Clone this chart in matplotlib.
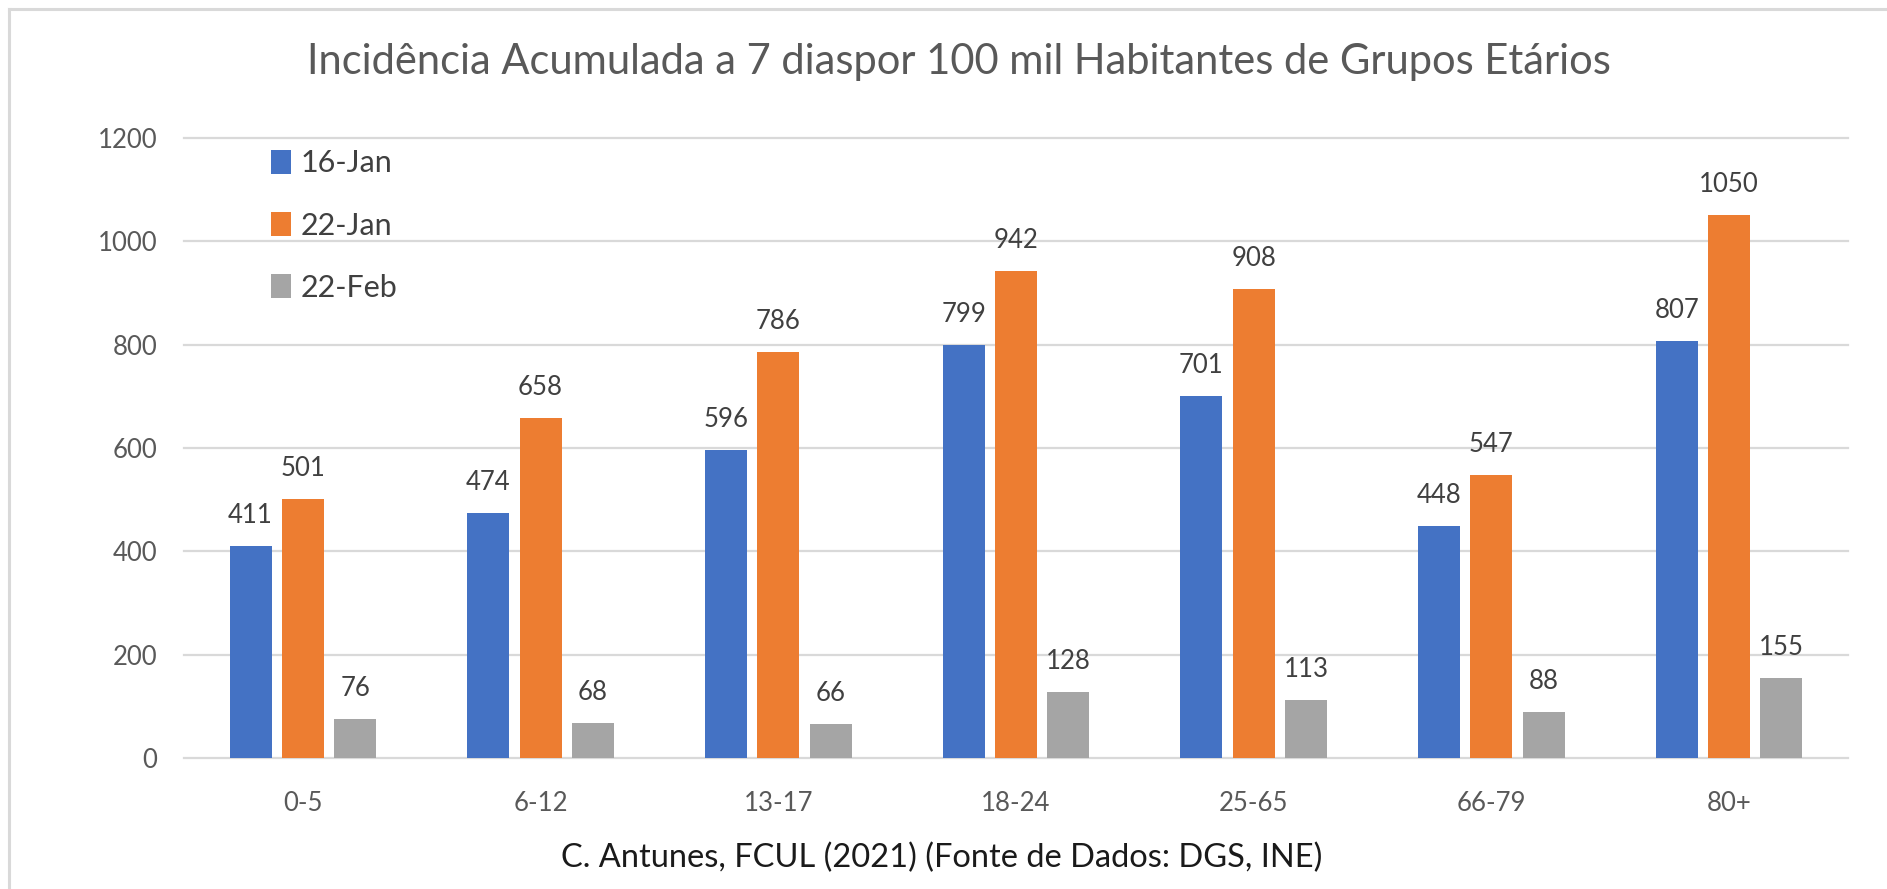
import matplotlib.pyplot as plt
from matplotlib.lines import Line2D
import numpy as np

plt.rcParams['font.family'] = ['Lato', 'DejaVu Sans']

grupos = ['0-5', '6-12', '13-17', '18-24', '25-65', '66-79', '80+']
series = ['16-Jan', '22-Jan', '22-Feb']
jan16 = [411, 474, 596, 799, 701, 448, 807]
jan22 = [501, 658, 786, 942, 908, 547, 1050]
feb22 = [76, 68, 66, 128, 113, 88, 155]
cores = ['#4472C4', '#ED7D31', '#A5A5A5']

fig = plt.figure(figsize=(18.87, 8.89), dpi=100)
ax = fig.add_axes([0.0975, 0.1474, 0.8818, 0.6974])

x = np.arange(len(grupos))
largura = 0.177
passo = 0.22
for i, (vals, cor, nome) in enumerate(zip([jan16, jan22, feb22], cores, series)):
    pos = x + (i - 1) * passo
    ax.bar(pos, vals, width=largura, color=cor, label=nome, zorder=3)
    for px, v in zip(pos, vals):
        ax.annotate(str(v), (px, v), xytext=(0, 22), textcoords='offset points',
                    ha='center', va='center', fontsize=18.5, color='#404040')

ax.set_xlim(-0.5, 6.5)
ax.set_ylim(0, 1200)
ax.set_yticks(range(0, 1201, 200))
ax.set_xticks(x)
ax.set_xticklabels(grupos)
ax.tick_params(axis='both', length=0, labelsize=18.5, labelcolor='#595959')
ax.tick_params(axis='y', pad=19)
ax.tick_params(axis='x', pad=24)
ax.grid(axis='y', color='#D9D9D9', linewidth=1.6, zorder=0)
for gl in ax.get_ygridlines():
    gl.set_clip_on(False)
for s in ax.spines.values():
    s.set_visible(False)

leg = ax.legend(loc='upper left', bbox_to_anchor=(0.0395, 1.016), frameon=False,
                fontsize=22, handlelength=0.65, handleheight=0.85,
                handletextpad=0.3, labelspacing=1.12, borderaxespad=0.3)
for t in leg.get_texts():
    t.set_color('#404040')

fig.text(0.508, 1 - 62 / 889, 'Incidência Acumulada a 7 diaspor 100 mil Habitantes de Grupos Etários',
         ha='center', va='center', fontsize=30, color='#595959')
fig.text(0.499, 1 - 858 / 889, 'C. Antunes, FCUL (2021) (Fonte de Dados: DGS, INE)',
         ha='center', va='center', fontsize=23.5, color='#1a1a1a')

# moldura (apenas topo e lado esquerdo visiveis)
fig.add_artist(Line2D([9 / 1887, 9 / 1887], [0, 1 - 9 / 889], color='#D9D9D9', linewidth=2.2))
fig.add_artist(Line2D([9 / 1887, 1], [1 - 9 / 889, 1 - 9 / 889], color='#D9D9D9', linewidth=2.2))

fig.savefig('out.png', dpi=100)
